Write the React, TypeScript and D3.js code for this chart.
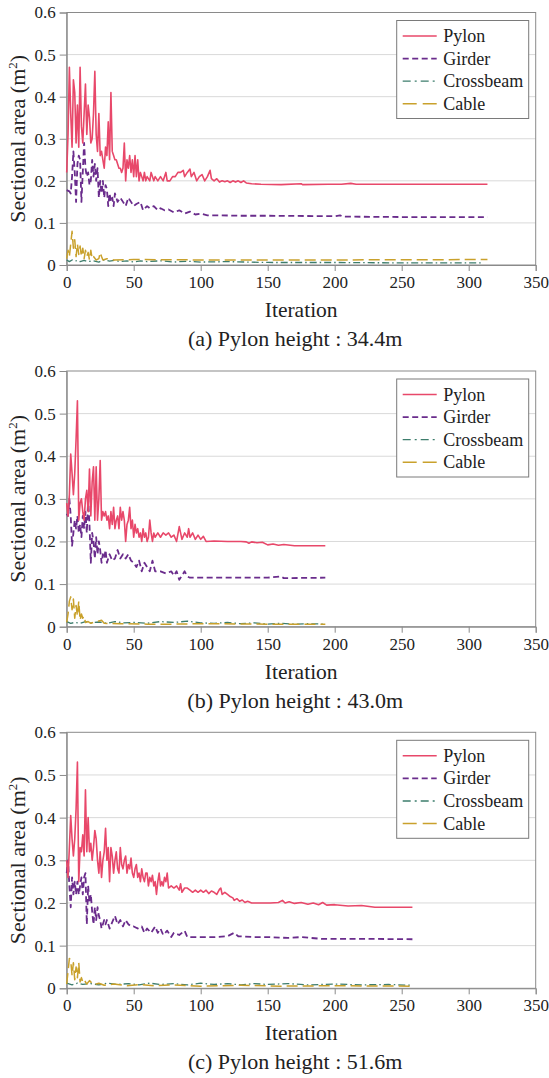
import React, { useRef, useEffect } from 'react';
import * as d3 from 'd3';

type Pt = [number, number];

const seriesNames = ['Pylon', 'Girder', 'Crossbeam', 'Cable'];
const captions = ['(a) Pylon height : 34.4m', '(b) Pylon height : 43.0m', '(c) Pylon height : 51.6m'];
const xTicks = [0, 50, 100, 150, 200, 250, 300, 350];
const yTicks = [0, 0.1, 0.2, 0.3, 0.4, 0.5, 0.6];

// (a) 34.4m
const pylonA: Pt[] = [[0,0.22],[1,0.31],[2,0.47],[3,0.36],[4,0.28],[5,0.44],[6,0.41],[7,0.29],[8,0.38],[9,0.28],[10,0.47],[11,0.33],[12,0.29],[13,0.36],[14,0.43],[15,0.31],[16,0.38],[17,0.35],[18,0.29],[19,0.3],[20,0.36],[21,0.46],[22,0.31],[23,0.27],[24,0.36],[25,0.26],[26,0.27],[27,0.25],[28,0.23],[29,0.28],[30,0.26],[31,0.34],[32,0.25],[33,0.41],[34,0.27],[35,0.26],[36,0.25],[37,0.25],[38,0.24],[39,0.23],[40,0.23],[41,0.22],[42,0.23],[43,0.29],[44,0.2],[45,0.25],[46,0.23],[47,0.26],[48,0.22],[49,0.25],[50,0.21],[51,0.26],[52,0.21],[53,0.25],[54,0.2],[55,0.22],[56,0.21],[57,0.2],[58,0.22],[59,0.2],[60,0.21],[62,0.2],[63,0.22],[65,0.2],[66,0.21],[68,0.2],[70,0.21],[72,0.2],[74,0.22],[75,0.2],[77,0.2],[79,0.21],[81,0.21],[83,0.22],[85,0.22],[87,0.225],[88,0.21],[90,0.22],[92,0.228],[93,0.21],[95,0.22],[97,0.2],[99,0.21],[101,0.215],[103,0.2],[105,0.21],[107,0.225],[108,0.205],[110,0.2],[112,0.205],[114,0.197],[116,0.2],[118,0.198],[120,0.2],[122,0.196],[124,0.2],[126,0.197],[128,0.2],[130,0.196],[132,0.2],[134,0.195],[138,0.193],[145,0.192],[160,0.191],[175,0.193],[176,0.191],[195,0.192],[205,0.192],[212,0.194],[216,0.192],[250,0.192],[314,0.192]];
const girderA: Pt[] = [[0,0.178],[2,0.175],[3,0.17],[4,0.21],[5,0.27],[6,0.22],[7,0.15],[8,0.24],[9,0.26],[10,0.25],[11,0.15],[12,0.22],[13,0.29],[14,0.23],[15,0.21],[16,0.22],[17,0.19],[18,0.2],[19,0.25],[20,0.21],[21,0.24],[22,0.2],[23,0.23],[24,0.16],[25,0.2],[26,0.17],[27,0.2],[28,0.16],[29,0.19],[30,0.18],[31,0.14],[32,0.17],[33,0.15],[34,0.16],[35,0.14],[36,0.17],[38,0.15],[40,0.16],[42,0.15],[44,0.14],[46,0.16],[48,0.15],[50,0.14],[52,0.145],[55,0.15],[57,0.13],[60,0.14],[62,0.135],[65,0.14],[68,0.13],[70,0.135],[73,0.13],[76,0.132],[80,0.125],[84,0.13],[88,0.122],[92,0.127],[96,0.12],[100,0.122],[105,0.118],[115,0.118],[130,0.117],[150,0.117],[200,0.116],[204,0.118],[206,0.115],[250,0.114],[314,0.114]];
const crossbeamA: Pt[] = [[0,0.012],[2,0.008],[4,0.012],[6,0.009],[8,0.011],[10,0.008],[13,0.011],[16,0.008],[20,0.01],[24,0.007],[28,0.012],[32,0.009],[36,0.011],[40,0.008],[45,0.01],[50,0.007],[55,0.01],[60,0.008],[70,0.01],[80,0.007],[90,0.009],[100,0.007],[120,0.008],[150,0.006],[200,0.006],[250,0.005],[310,0.005]];
const cableA: Pt[] = [[0,0.015],[1,0.035],[2,0.02],[3,0.05],[4,0.08],[5,0.04],[6,0.06],[7,0.02],[8,0.05],[9,0.025],[10,0.045],[11,0.02],[12,0.04],[13,0.015],[14,0.035],[15,0.02],[16,0.03],[17,0.012],[18,0.035],[19,0.015],[20,0.02],[22,0.012],[24,0.015],[25,0.03],[26,0.02],[27,0.012],[30,0.015],[35,0.012],[50,0.013],[100,0.012],[200,0.012],[314,0.013]];

// (b) 43.0m
const pylonB: Pt[] = [[0,0.29],[1,0.26],[2,0.31],[3,0.405],[4,0.36],[5,0.31],[6,0.36],[7,0.44],[8,0.53],[9,0.25],[10,0.29],[11,0.3],[12,0.27],[13,0.25],[14,0.3],[15,0.32],[16,0.27],[17,0.37],[18,0.26],[19,0.34],[20,0.375],[21,0.25],[22,0.375],[23,0.25],[24,0.3],[25,0.39],[26,0.25],[27,0.27],[28,0.26],[29,0.27],[30,0.25],[31,0.26],[32,0.23],[33,0.27],[34,0.24],[35,0.28],[36,0.23],[37,0.25],[38,0.26],[39,0.23],[40,0.28],[41,0.25],[42,0.27],[43,0.25],[44,0.2],[45,0.24],[46,0.25],[47,0.28],[48,0.23],[49,0.25],[50,0.21],[51,0.24],[52,0.22],[53,0.23],[54,0.21],[55,0.22],[56,0.2],[57,0.23],[58,0.21],[59,0.22],[60,0.2],[61,0.21],[62,0.25],[63,0.22],[64,0.2],[65,0.22],[66,0.21],[68,0.22],[70,0.21],[72,0.22],[74,0.215],[76,0.22],[78,0.21],[80,0.215],[82,0.2],[84,0.235],[85,0.22],[86,0.205],[88,0.22],[90,0.21],[91,0.23],[92,0.21],[94,0.22],[96,0.205],[98,0.215],[100,0.205],[102,0.212],[104,0.2],[110,0.201],[120,0.2],[130,0.2],[134,0.199],[136,0.196],[138,0.199],[142,0.197],[146,0.198],[150,0.192],[154,0.194],[158,0.191],[162,0.193],[170,0.19],[193,0.19]];
const girderB: Pt[] = [[0,0.265],[1,0.26],[2,0.3],[3,0.26],[4,0.19],[5,0.22],[6,0.25],[7,0.23],[8,0.26],[9,0.22],[10,0.24],[11,0.21],[12,0.26],[13,0.23],[14,0.27],[15,0.22],[16,0.3],[17,0.24],[18,0.15],[19,0.22],[20,0.2],[21,0.16],[22,0.21],[23,0.17],[24,0.2],[25,0.18],[26,0.15],[27,0.17],[28,0.16],[29,0.18],[30,0.15],[32,0.17],[34,0.155],[36,0.16],[38,0.18],[40,0.16],[42,0.17],[44,0.16],[46,0.17],[48,0.155],[50,0.15],[52,0.14],[54,0.155],[56,0.13],[58,0.15],[60,0.14],[62,0.13],[64,0.155],[66,0.13],[70,0.13],[74,0.125],[78,0.13],[80,0.12],[82,0.13],[84,0.11],[86,0.12],[88,0.13],[90,0.118],[92,0.115],[100,0.115],[120,0.115],[150,0.115],[160,0.118],[162,0.114],[193,0.115]];
const crossbeamB: Pt[] = [[0,0.012],[3,0.008],[6,0.01],[10,0.008],[14,0.012],[18,0.009],[24,0.011],[30,0.008],[36,0.012],[42,0.009],[50,0.01],[60,0.008],[70,0.012],[80,0.01],[90,0.013],[100,0.009],[110,0.008],[120,0.01],[130,0.007],[140,0.009],[150,0.006],[160,0.008],[170,0.006],[180,0.007],[193,0.006]];
const cableB: Pt[] = [[0,0.01],[1,0.03],[2,0.06],[3,0.07],[4,0.04],[5,0.065],[6,0.02],[7,0.05],[8,0.025],[9,0.06],[10,0.015],[11,0.03],[12,0.02],[13,0.025],[14,0.01],[16,0.012],[18,0.008],[20,0.01],[26,0.015],[28,0.008],[40,0.007],[60,0.006],[80,0.006],[100,0.007],[150,0.006],[193,0.006]];

// (c) 51.6m
const pylonC: Pt[] = [[0,0.3],[1,0.26],[2,0.33],[3,0.405],[4,0.35],[5,0.31],[6,0.35],[7,0.42],[8,0.53],[9,0.25],[10,0.33],[11,0.32],[12,0.36],[13,0.31],[14,0.465],[15,0.32],[16,0.4],[17,0.32],[18,0.34],[19,0.3],[20,0.33],[21,0.37],[22,0.35],[23,0.3],[24,0.27],[25,0.32],[26,0.26],[27,0.3],[28,0.32],[29,0.375],[30,0.3],[31,0.33],[32,0.25],[33,0.33],[34,0.31],[35,0.27],[36,0.3],[37,0.32],[38,0.28],[39,0.27],[40,0.33],[41,0.29],[42,0.28],[43,0.3],[44,0.31],[45,0.27],[46,0.29],[47,0.28],[48,0.305],[49,0.27],[50,0.26],[51,0.28],[52,0.29],[53,0.26],[54,0.27],[55,0.25],[56,0.28],[57,0.26],[58,0.25],[59,0.27],[60,0.27],[61,0.24],[62,0.26],[63,0.25],[64,0.265],[65,0.24],[66,0.25],[67,0.22],[68,0.25],[69,0.27],[70,0.24],[71,0.25],[72,0.24],[73,0.26],[74,0.25],[75,0.27],[76,0.235],[78,0.24],[80,0.235],[82,0.24],[84,0.23],[85,0.245],[86,0.225],[88,0.235],[90,0.235],[92,0.23],[94,0.225],[96,0.23],[98,0.225],[100,0.23],[102,0.225],[104,0.23],[106,0.222],[108,0.228],[110,0.225],[112,0.22],[114,0.232],[115,0.235],[116,0.22],[118,0.225],[120,0.22],[122,0.215],[124,0.212],[125,0.206],[127,0.21],[129,0.204],[131,0.207],[133,0.201],[135,0.204],[138,0.2],[145,0.2],[152,0.2],[158,0.201],[161,0.206],[163,0.2],[166,0.203],[170,0.199],[175,0.201],[180,0.197],[184,0.2],[188,0.196],[191,0.201],[194,0.195],[200,0.196],[210,0.193],[220,0.194],[230,0.19],[258,0.19]];
const girderC: Pt[] = [[0,0.27],[1,0.3],[2,0.24],[3,0.19],[4,0.26],[5,0.22],[6,0.25],[7,0.22],[8,0.25],[9,0.22],[10,0.24],[11,0.26],[12,0.22],[13,0.26],[14,0.27],[15,0.15],[16,0.24],[17,0.2],[18,0.22],[19,0.18],[20,0.15],[21,0.19],[22,0.16],[23,0.19],[24,0.17],[25,0.16],[26,0.14],[27,0.15],[28,0.16],[29,0.15],[30,0.16],[32,0.14],[34,0.155],[36,0.17],[38,0.15],[40,0.16],[42,0.145],[44,0.16],[46,0.15],[48,0.145],[50,0.145],[53,0.14],[56,0.145],[58,0.13],[60,0.14],[63,0.13],[66,0.145],[68,0.13],[70,0.14],[72,0.125],[75,0.135],[78,0.12],[80,0.13],[84,0.125],[88,0.135],[90,0.12],[95,0.12],[100,0.12],[110,0.12],[120,0.122],[125,0.13],[128,0.122],[140,0.12],[150,0.12],[165,0.118],[175,0.12],[190,0.116],[220,0.116],[258,0.115]];
const crossbeamC: Pt[] = [[0,0.012],[4,0.008],[8,0.012],[12,0.009],[18,0.011],[24,0.008],[30,0.012],[38,0.009],[46,0.011],[54,0.008],[62,0.012],[70,0.009],[80,0.011],[90,0.008],[100,0.012],[110,0.009],[120,0.011],[130,0.008],[140,0.011],[150,0.009],[165,0.011],[180,0.008],[200,0.01],[220,0.008],[240,0.009],[258,0.007]];
const cableC: Pt[] = [[0,0.01],[1,0.04],[2,0.07],[3,0.065],[4,0.03],[5,0.06],[6,0.02],[7,0.05],[8,0.025],[9,0.06],[10,0.015],[11,0.025],[12,0.015],[13,0.02],[15,0.01],[17,0.018],[20,0.008],[24,0.012],[28,0.007],[35,0.01],[45,0.006],[55,0.009],[65,0.006],[80,0.008],[100,0.005],[130,0.007],[160,0.005],[200,0.006],[258,0.005]];

const panelData: Pt[][][] = [
  [pylonA, girderA, crossbeamA, cableA],
  [pylonB, girderB, crossbeamB, cableB],
  [pylonC, girderC, crossbeamC, cableC],
];

const styles = [
  { color: '#e8486a', width: 1.6, dash: null, legendDash: null },
  { color: '#6a2c8c', width: 1.8, dash: '6,3.5', legendDash: '6,3.5' },
  { color: '#3d7d6c', width: 1.3, dash: '7,3,1.5,3', legendDash: '8,4,2,4' },
  { color: '#c9a12c', width: 1.5, dash: '11,5', legendDash: '14,6' },
];

const FONT = 'Liberation Serif';
const TEXT = '#222';

const App = () => {
  const svgRef = useRef<SVGSVGElement>(null);

  useEffect(() => {
    const svg = d3.select(svgRef.current);
    svg.selectAll('*').remove();

    const left = 66.7, right = 535.7;
    const frames = [[12.5, 265], [371, 626.7], [732.3, 988.3]];

    frames.forEach(([top, bottom], pi) => {
      const x = d3.scaleLinear().domain([0, 350]).range([left, right]);
      const y = d3.scaleLinear().domain([0, 0.6]).range([bottom, top]);
      const g = svg.append('g');

      // gridlines
      g.selectAll('.grid')
        .data(yTicks.filter(t => t > 0 && t < 0.6))
        .enter()
        .append('line')
        .attr('x1', left).attr('x2', right)
        .attr('y1', d => y(d)).attr('y2', d => y(d))
        .attr('stroke', '#d9d9d9').attr('stroke-width', 1);

      // frame
      g.append('rect')
        .attr('x', left).attr('y', top)
        .attr('width', right - left).attr('height', bottom - top)
        .attr('fill', 'none').attr('stroke', '#8a8a8a').attr('stroke-width', 1);

      // y axis
      const ya = g.append('g')
        .attr('transform', `translate(${left},0)`)
        .call(d3.axisLeft(y).tickValues(yTicks).tickFormat(d => d3.format('.1~f')(d as number)).tickSize(7).tickPadding(4));
      ya.attr('font-family', null).attr('font-size', null);
      ya.select('.domain').attr('stroke', '#8a8a8a');
      ya.selectAll('line').attr('stroke', '#8a8a8a');
      ya.selectAll('text').style('font-family', FONT).style('font-size', '17px').attr('fill', TEXT);

      // x axis
      const xa = g.append('g')
        .attr('transform', `translate(0,${bottom})`)
        .call(d3.axisBottom(x).tickValues(xTicks).tickSize(6).tickPadding(5));
      xa.attr('font-family', null).attr('font-size', null);
      xa.select('.domain').attr('stroke', '#8a8a8a');
      xa.selectAll('line').attr('stroke', '#8a8a8a');
      xa.selectAll('text').style('font-family', FONT).style('font-size', '17px').attr('fill', TEXT);

      // series
      const line = d3.line<Pt>().x(d => x(d[0])).y(d => y(d[1]));
      const order = [2, 3, 1, 0];
      order.forEach(si => {
        const st = styles[si];
        g.append('path')
          .datum(panelData[pi][si])
          .attr('d', line)
          .attr('fill', 'none')
          .attr('stroke', st.color)
          .attr('stroke-width', st.width)
          .attr('stroke-linejoin', 'round')
          .attr('stroke-dasharray', st.dash);
      });

      // legend
      const lx = right - 139, ly = top + 8;
      const lg = g.append('g').attr('transform', `translate(${lx},${ly})`);
      lg.append('rect')
        .attr('width', 132).attr('height', 98)
        .attr('fill', 'white').attr('stroke', '#7a7a7a').attr('stroke-width', 1);
      seriesNames.forEach((name, i) => {
        const cy = 15.5 + i * 22.6;
        lg.append('line')
          .attr('x1', 6).attr('x2', 40).attr('y1', cy).attr('y2', cy)
          .attr('stroke', styles[i].color)
          .attr('stroke-width', styles[i].width)
          .attr('stroke-dasharray', styles[i].legendDash);
        lg.append('text')
          .attr('x', 46.5).attr('y', cy + 6)
          .style('font-family', FONT).style('font-size', '18px').attr('fill', TEXT)
          .text(name);
      });

      // axis titles
      g.append('text')
        .attr('x', (left + right) / 2).attr('y', bottom + 52)
        .attr('text-anchor', 'middle')
        .style('font-family', FONT).style('font-size', '21.5px').attr('fill', TEXT)
        .text('Iteration');

      const yt = g.append('text')
        .attr('transform', `translate(25,${(top + bottom) / 2}) rotate(-90)`)
        .attr('text-anchor', 'middle')
        .style('font-family', FONT).style('font-size', '22px').attr('fill', TEXT);
      yt.append('tspan').text('Sectional area (m');
      yt.append('tspan').attr('dy', -8).style('font-size', '13px').text('2');
      yt.append('tspan').attr('dy', 8).text(')');

      g.append('text')
        .attr('x', (left + right) / 2 - 6).attr('y', bottom + 81)
        .attr('text-anchor', 'middle')
        .style('font-family', FONT).style('font-size', '22px').attr('fill', TEXT)
        .text(captions[pi]);
    });
  }, []);

  return (
    <svg ref={svgRef} width={549} height={1078}
      style={{ position: 'absolute', left: 0, top: 0, background: 'white' }} />
  );
};

export default App;
